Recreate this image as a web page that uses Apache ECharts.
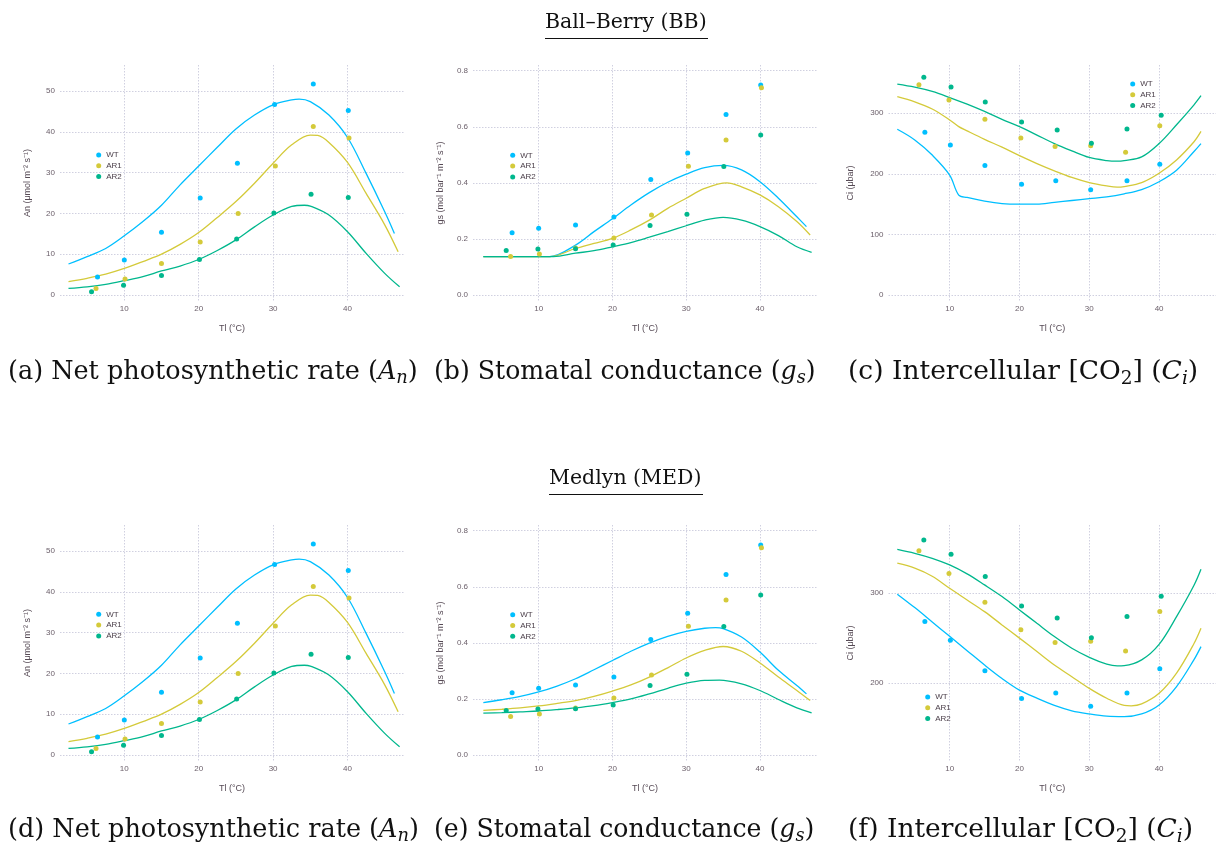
<!DOCTYPE html>
<html>
<head>
<meta charset="utf-8">
<title>Ball-Berry / Medlyn fits</title>
<script src="https://cdn.jsdelivr.net/npm/echarts@6/dist/echarts.min.js"></script>
<style>
  html, body { margin: 0; padding: 0; background: #fff; }
  #chart { width: 1216px; height: 846px; }
</style>
</head>
<body>
<div id="chart"></div>
<script>
// measurement temperatures (°C), An and gs panels
var tempWT  = [6.4, 10.0, 15.0, 20.2, 25.2, 30.2, 35.4, 40.1];
var tempAR1 = [6.2, 10.1, 15.0, 20.2, 25.3, 30.3, 35.4, 40.2];
var tempAR2 = [5.6, 9.9, 15.0, 20.1, 25.1, 30.1, 35.1, 40.1];
// measurement temperatures (°C), Ci panels
var ciTempWT  = [6.45, 10.1, 15.05, 20.3, 25.2, 30.2, 35.4, 40.1];
var ciTempAR1 = [5.6, 9.9, 15.05, 20.2, 25.1, 30.2, 35.2, 40.1];
var ciTempAR2 = [6.3, 10.2, 15.1, 20.3, 25.4, 30.3, 35.4, 40.3];

// observed values
var anWT  = [4.4, 8.6, 15.4, 23.8, 32.3, 46.7, 51.7, 45.2];
var anAR1 = [1.6, 3.9, 7.7, 13.0, 20.0, 31.6, 41.3, 38.5];
var anAR2 = [0.8, 2.4, 4.8, 8.7, 13.7, 20.1, 24.7, 23.9];
var gsWT  = [0.222, 0.238, 0.250, 0.278, 0.412, 0.506, 0.644, 0.749];
var gsAR1 = [0.137, 0.146, 0.168, 0.203, 0.285, 0.459, 0.553, 0.739];
var gsAR2 = [0.159, 0.164, 0.165, 0.178, 0.248, 0.288, 0.458, 0.571];
var ciWT  = [268.6, 247.7, 213.6, 182.8, 188.8, 173.9, 188.8, 215.8];
var ciAR1 = [347.3, 322.0, 290.1, 259.3, 245.0, 246.6, 235.6, 279.6];
var ciAR2 = [359.4, 343.5, 318.7, 285.7, 272.5, 250.5, 274.1, 296.7];

// model curves: [Tl, value]
var anFitWT  = [[2.5,7.6],[5,9.4],[7.5,11.4],[10,14.5],[12.5,18],[15,22],[17.5,27],[20,31.6],[22.5,36.2],[25,40.7],[27.5,44.1],[30,46.6],[32.5,47.8],[33.5,48.0],[35,47.4],[37.5,44.1],[40,38.6],[42.5,29.8],[45,20.4],[46.3,15.1]];
var anFitAR1 = [[2.5,3.3],[5,4.1],[7.5,5.1],[10,6.5],[12.5,8.2],[15,10.0],[17.5,12.4],[20,15.3],[22.5,19],[25,22.9],[27.5,27.4],[30,32.3],[32.5,36.8],[35,39.2],[36,39.1],[37.5,37.4],[40,32.5],[42.5,24.9],[45,17.2],[46.8,10.6]];
var anFitAR2 = [[2.5,1.6],[5,2.0],[7.5,2.6],[10,3.5],[12.5,4.5],[15,5.9],[17.5,7.1],[20,8.7],[22.5,10.9],[25,13.5],[27.5,16.7],[30,19.6],[32.5,21.7],[34.2,22.0],[35,21.8],[37.5,19.6],[40,15.5],[42.5,10.2],[45,5.3],[47,2.0]];

var gsBBFitWT  = [[2.5,0.137],[7,0.137],[11.5,0.137],[15,0.178],[17.5,0.226],[20,0.272],[22.5,0.321],[25,0.365],[27.5,0.402],[30,0.431],[32.5,0.454],[35,0.462],[37.5,0.446],[40,0.404],[42.5,0.345],[45,0.279],[46.3,0.244]];
var gsBBFitAR1 = [[2.5,0.137],[7,0.137],[11.5,0.137],[15,0.166],[17.5,0.184],[20,0.202],[22.5,0.232],[25,0.267],[27.5,0.309],[30,0.345],[32.5,0.380],[35.5,0.400],[37.5,0.386],[40,0.357],[42.5,0.315],[45,0.262],[46.8,0.214]];
var gsBBFitAR2 = [[2.5,0.137],[7,0.137],[12,0.137],[15,0.149],[17.5,0.158],[20,0.172],[22.5,0.187],[25,0.206],[27.5,0.226],[30,0.247],[32.5,0.267],[35,0.277],[37.5,0.267],[40,0.244],[42.5,0.212],[45,0.172],[47,0.152]];

var gsMEDFitWT  = [[2.5,0.187],[5,0.197],[7.5,0.209],[10,0.225],[12.5,0.246],[15,0.272],[17.5,0.304],[20,0.337],[22.5,0.370],[25,0.399],[27.5,0.423],[30,0.441],[32.5,0.452],[34,0.454],[35,0.451],[37.5,0.421],[40,0.367],[42.5,0.302],[45,0.248],[46.3,0.218]];
var gsMEDFitAR1 = [[2.5,0.159],[5,0.163],[7.5,0.168],[10,0.175],[12.5,0.184],[15,0.194],[17.5,0.209],[20,0.228],[22.5,0.250],[25,0.278],[27.5,0.311],[30,0.346],[32.5,0.373],[35,0.387],[37.5,0.370],[40,0.328],[42.5,0.278],[45,0.230],[46.8,0.194]];
var gsMEDFitAR2 = [[2.5,0.149],[5,0.151],[7.5,0.154],[10,0.157],[12.5,0.162],[15,0.168],[17.5,0.176],[20,0.187],[22.5,0.200],[25,0.218],[27.5,0.238],[30,0.256],[32.5,0.266],[34.5,0.267],[37.5,0.254],[40,0.230],[42.5,0.198],[45,0.168],[47,0.150]];

var ciBBFitWT  = [[2.5,273.6],[5,256],[7.5,231],[10,198],[11.3,165],[12.5,161],[15,155],[17.5,151],[20,150],[22.5,150],[25,153],[27.5,156],[30,159],[32.5,162],[35,167],[37.5,174],[40,187],[42.5,206],[45,237],[46,250]];
var ciBBFitAR1 = [[2.5,327.5],[5,319],[7.5,307],[10,289],[11.3,278],[12.5,271],[15,257],[17.5,244],[20,230],[22.5,217],[25,205],[27.5,194],[30,185.5],[32.5,180],[34,178],[35,179],[37.5,185.5],[40,201],[42.5,223],[45,253],[46,270]];
var ciBBFitAR2 = [[2.5,348],[5,343],[7.5,336],[10,326],[12.5,315],[15,303],[17.5,290],[20,278],[22.5,264],[25,250],[27.5,238],[30,227],[32.5,222],[34,221],[35,222],[37.5,228],[40,250],[42.5,281],[45,314],[46,329]];

var ciMEDFitWT  = [[2.5,299],[5,284],[7.5,268],[10,252],[12.5,236],[15,220],[17.5,205],[20,192],[22.5,183],[25,175],[27.5,169],[30,165.5],[32.5,163],[35,162.5],[37.5,165.5],[40,175.5],[42.5,196],[45,226],[46,240.5]];
var ciMEDFitAR1 = [[2.5,333.5],[5,328],[7.5,319],[10,305.5],[12.5,292.5],[15,279.5],[17.5,264.7],[20,250],[22.5,235],[25,220],[27.5,207],[30,194],[32.5,183],[35,175],[36,174.5],[37.5,176.6],[40,188.5],[42.5,211],[45,244],[46,261]];
var ciMEDFitAR2 = [[2.5,349],[5,344.6],[7.5,339],[10,331.6],[12.5,321.6],[15,309.3],[17.5,296.3],[20,281.4],[22.5,266.5],[25,251.7],[27.5,238.7],[30,228.6],[32.5,221],[34,219],[35,219.3],[37.5,225.7],[40,243],[42.5,274],[45,309],[46,326.8]];

var genotypes = ['WT', 'AR1', 'AR2'];
var colors = ['#00BFFF', '#D4CA3A', '#00B78D'];

var anTicks = [0, 10, 20, 30, 40, 50];
var gsTicks = [0, 0.2, 0.4, 0.6, 0.8];
var ciBBTicks = [0, 100, 200, 300];
var ciMEDTicks = [200, 300];
var tempTicks = [10, 20, 30, 40];

var anName = 'An (\u03bcmol m\u207b\u00b2 s\u207b\u00b9)';
var gsName = 'gs (mol bar\u207b\u00b9 m\u207b\u00b2 s\u207b\u00b9)';
var ciName = 'Ci (\u03bcbar)';

function zip(xs, ys) {
	var out = [];
	for (var i = 0; i < xs.length; i++) out.push([xs[i], ys[i]]);
	return out;
}

var labelFont = '"Liberation Sans", Helvetica, Arial, sans-serif';
var serifFont = '"DejaVu Serif", serif';

var panels = [
	{ left: 60,  top: 65,  xMin: 1.36, xMax: 47.59, yMin: -1.47, yMax: 56.37, ticks: anTicks, name: anName, gap: 28,
	  legend: [96.2, 150], temps: [tempWT, tempAR1, tempAR2], obs: [anWT, anAR1, anAR2], fits: [anFitWT, anFitAR1, anFitAR2] },
	{ left: 473, top: 65,  xMin: 1.10, xMax: 47.73, yMin: -0.0214, yMax: 0.8203, ticks: gsTicks, name: gsName, gap: 28, digits: 1,
	  legend: [510.2, 150.3], temps: [tempWT, tempAR1, tempAR2], obs: [gsWT, gsAR1, gsAR2], fits: [gsBBFitWT, gsBBFitAR1, gsBBFitAR2] },
	{ left: 888.5, top: 65, xMin: 1.24, xMax: 48.15, yMin: -9.9, yMax: 379.7, ticks: ciBBTicks, name: ciName, gap: 33,
	  legend: [1130.2, 79], temps: [ciTempWT, ciTempAR1, ciTempAR2], obs: [ciWT, ciAR1, ciAR2], fits: [ciBBFitWT, ciBBFitAR1, ciBBFitAR2] },
	{ left: 60,  top: 525, xMin: 1.36, xMax: 47.59, yMin: -1.47, yMax: 56.37, ticks: anTicks, name: anName, gap: 28,
	  legend: [96.2, 609.3], temps: [tempWT, tempAR1, tempAR2], obs: [anWT, anAR1, anAR2], fits: [anFitWT, anFitAR1, anFitAR2] },
	{ left: 473, top: 525, xMin: 1.10, xMax: 47.73, yMin: -0.0214, yMax: 0.8203, ticks: gsTicks, name: gsName, gap: 28, digits: 1,
	  legend: [510.2, 609.7], temps: [tempWT, tempAR1, tempAR2], obs: [gsWT, gsAR1, gsAR2], fits: [gsMEDFitWT, gsMEDFitAR1, gsMEDFitAR2] },
	{ left: 888.5, top: 525, xMin: 1.24, xMax: 48.15, yMin: 113.0, yMax: 376.1, ticks: ciMEDTicks, name: ciName, gap: 33,
	  legend: [925.2, 692], temps: [ciTempWT, ciTempAR1, ciTempAR2], obs: [ciWT, ciAR1, ciAR2], fits: [ciMEDFitWT, ciMEDFitAR1, ciMEDFitAR2] }
];

var gridLine = { show: true, lineStyle: { color: '#D0D0E0', width: 1, type: [1.5, 1.5] } };

var grids = [], xAxes = [], yAxes = [], legends = [], series = [];

panels.forEach(function(p, i) {
	grids.push({ left: p.left, top: p.top, width: 344, height: 236 });
	xAxes.push({
		type: 'value', gridIndex: i, min: p.xMin, max: p.xMax,
		name: 'Tl (\u00b0C)', nameLocation: 'middle', nameGap: 23,
		nameTextStyle: { color: '#564a55', fontSize: 9, fontFamily: labelFont },
		axisLine: { show: false }, axisTick: { show: false, customValues: tempTicks },
		axisLabel: { customValues: tempTicks, color: '#6c606b', fontSize: 8, margin: 4, fontFamily: labelFont },
		splitLine: gridLine
	});
	yAxes.push({
		type: 'value', gridIndex: i, min: p.yMin, max: p.yMax,
		name: p.name, nameLocation: 'middle', nameGap: p.gap,
		nameTextStyle: { color: '#564a55', fontSize: 9, fontFamily: labelFont },
		axisLine: { show: false }, axisTick: { show: false, customValues: p.ticks },
		axisLabel: {
			customValues: p.ticks, color: '#6c606b', fontSize: 8, margin: 5, fontFamily: labelFont,
			formatter: function(v) { return p.digits ? v.toFixed(p.digits) : String(v); }
		},
		splitLine: gridLine
	});
	legends.push({
		data: genotypes, orient: 'vertical', left: p.legend[0], top: p.legend[1],
		icon: 'circle', itemWidth: 5, itemHeight: 5, itemGap: 0.8, padding: 0,
		selectedMode: false,
		textStyle: { color: '#4c404b', fontSize: 8, lineHeight: 10, fontFamily: labelFont }
	});
	for (var g = 0; g < genotypes.length; g++) {
		series.push({
			name: genotypes[g] + ' fit ' + i, type: 'line', xAxisIndex: i, yAxisIndex: i,
			data: p.fits[g], smooth: 0.35, showSymbol: false, silent: true,
			lineStyle: { color: colors[g], width: 1.3 }, z: 2
		});
	}
	for (var g2 = 0; g2 < genotypes.length; g2++) {
		series.push({
			name: genotypes[g2], type: 'scatter', xAxisIndex: i, yAxisIndex: i,
			data: zip(p.temps[g2], p.obs[g2]), symbolSize: 5,
			itemStyle: { color: colors[g2], opacity: 1 }, z: 3
		});
	}
});

function captionRich(size) {
	var sub = size * 0.7;
	var base = { fontFamily: serifFont, fontWeight: 'normal', color: '#111' };
	return {
		t: Object.assign({ fontSize: size }, base),
		i: Object.assign({ fontSize: size, fontStyle: 'italic' }, base),
		si: Object.assign({ fontSize: sub, fontStyle: 'italic', padding: [size * 0.5, 0, 0, 0] }, base),
		s: Object.assign({ fontSize: sub, padding: [size * 0.5, 0, 0, 0] }, base)
	};
}

var captions = [
	{ text: '{t|(a) Net photosynthetic rate (}{i|A}{si|n}{t|)}', left: 8, top: 357, size: 25.5 },
	{ text: '{t|(b) Stomatal conductance (}{i|g}{si|s}{t|)}', left: 434, top: 357, size: 25.2 },
	{ text: '{t|(c) Intercellular [CO}{s|2}{t|] (}{i|C}{si|i}{t|)}', left: 848, top: 356, size: 26.5 },
	{ text: '{t|(d) Net photosynthetic rate (}{i|A}{si|n}{t|)}', left: 8, top: 815, size: 25.5 },
	{ text: '{t|(e) Stomatal conductance (}{i|g}{si|s}{t|)}', left: 434, top: 815, size: 25.2 },
	{ text: '{t|(f) Intercellular [CO}{s|2}{t|] (}{i|C}{si|i}{t|)}', left: 848, top: 814, size: 26.5 }
];

var titles = captions.map(function(c) {
	return { text: c.text, left: c.left, top: c.top, padding: 0, textStyle: { fontWeight: 'normal', rich: captionRich(c.size) } };
});
titles.push({ text: 'Ball\u2013Berry (BB)', left: 545, top: 12, padding: 0,
	textStyle: { fontFamily: serifFont, fontSize: 20.5, fontWeight: 'normal', color: '#111' } });
titles.push({ text: 'Medlyn (MED)', left: 549, top: 468, padding: 0,
	textStyle: { fontFamily: serifFont, fontSize: 20.5, fontWeight: 'normal', color: '#111' } });

var myChart = echarts.init(document.getElementById('chart'), null, { renderer: 'canvas' });
myChart.setOption({
	backgroundColor: '#fff',
	animation: false,
	title: titles,
	grid: grids,
	xAxis: xAxes,
	yAxis: yAxes,
	legend: legends,
	series: series,
	graphic: [
		{ type: 'line', shape: { x1: 545, y1: 38.5, x2: 708, y2: 38.5 }, style: { stroke: '#111', lineWidth: 1.2 } },
		{ type: 'line', shape: { x1: 549, y1: 494.5, x2: 703, y2: 494.5 }, style: { stroke: '#111', lineWidth: 1.2 } }
	]
});
</script>
</body>
</html>
